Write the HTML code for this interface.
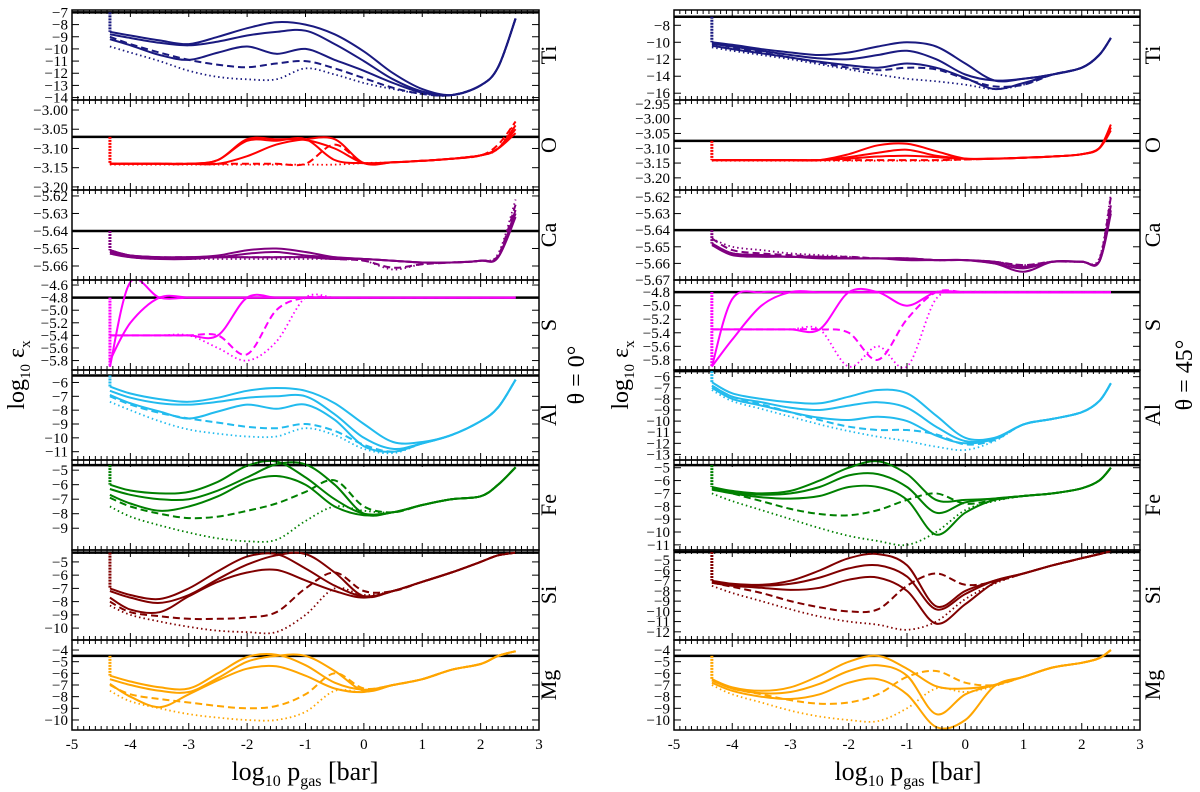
<!DOCTYPE html>
<html><head><meta charset="utf-8"><style>
html,body{margin:0;padding:0;background:#fff;}
svg{display:block;font-family:"Liberation Serif",serif;}
</style></head><body>
<svg id="chart" width="1200" height="792" viewBox="0 0 1200 792" xmlns="http://www.w3.org/2000/svg">
<g id="plots"></g>
<text transform="translate(24,375) rotate(-90)" text-anchor="middle" font-size="24">log<tspan font-size="15" dy="6">10</tspan><tspan dy="-6"> ε</tspan><tspan font-size="15" dy="6">x</tspan></text>
<text transform="translate(628,375) rotate(-90)" text-anchor="middle" font-size="24">log<tspan font-size="15" dy="6">10</tspan><tspan dy="-6"> ε</tspan><tspan font-size="15" dy="6">x</tspan></text>
<text transform="translate(584,375) rotate(-90)" text-anchor="middle" font-size="24">θ = 0°</text>
<text transform="translate(1192,375) rotate(-90)" text-anchor="middle" font-size="24">θ = 45°</text>
<text x="305" y="780" text-anchor="middle" font-size="26">log<tspan font-size="16" dy="6">10</tspan><tspan dy="-6"> p</tspan><tspan font-size="16" dy="6">gas</tspan><tspan dy="-6"> [bar]</tspan></text>
<text x="908" y="780" text-anchor="middle" font-size="26">log<tspan font-size="16" dy="6">10</tspan><tspan dy="-6"> p</tspan><tspan font-size="16" dy="6">gas</tspan><tspan dy="-6"> [bar]</tspan></text>
</svg>
<script>
const XL = [-4.35,-4,-3.5,-3,-2.5,-2,-1.5,-1,-0.5,0,0.5,1,1.5,2,2.3,2.6];
const XR = [-4.35,-4,-3.5,-3,-2.5,-2,-1.5,-1,-0.5,0,0.5,1,1.5,2,2.3,2.5];
const xTicks = [-5,-4,-3,-2,-1,0,1,2,3];
const elements = ["Ti","O","Ca","S","Al","Fe","Si","Mg"];
const colors = ["#1a1a80","#ff0000","#800080","#ff00ff","#22bbee","#008000","#800000","#ffa500"];

const leftTi = [[-8.6,-8.9,-9.3,-9.6,-9.0,-8.3,-7.8,-8.0,-8.8,-10.2,-12.0,-13.3,-13.8,-13.0,-11.5,-7.5],[-8.8,-9.1,-9.5,-9.7,-9.4,-8.9,-8.6,-8.5,-9.6,-11.0,-12.5,-13.5,-13.8,-13.0,-11.5,-7.5],[-9.2,-9.7,-10.5,-10.9,-10.3,-9.8,-10.4,-10.0,-10.9,-11.8,-12.8,-13.6,-13.8,-13.0,-11.5,-7.5],[-9.0,-9.6,-10.3,-10.9,-11.3,-11.5,-11.2,-11.0,-11.6,-12.4,-13.2,-13.7,-13.8,-13.0,-11.5,-7.5],[-9.8,-10.3,-11.0,-11.8,-12.3,-12.5,-12.5,-11.6,-12.1,-12.8,-13.3,-13.7,-13.8,-13.0,-11.5,-7.5]];
const leftO = [[-3.14,-3.14,-3.14,-3.14,-3.13,-3.076,-3.076,-3.078,-3.10,-3.138,-3.136,-3.132,-3.127,-3.118,-3.10,-3.04],[-3.14,-3.14,-3.14,-3.14,-3.13,-3.08,-3.08,-3.076,-3.13,-3.138,-3.136,-3.132,-3.127,-3.118,-3.10,-3.05],[-3.14,-3.14,-3.14,-3.14,-3.14,-3.12,-3.09,-3.076,-3.076,-3.138,-3.136,-3.132,-3.127,-3.118,-3.10,-3.06],[-3.14,-3.14,-3.14,-3.14,-3.14,-3.14,-3.14,-3.14,-3.09,-3.138,-3.136,-3.132,-3.127,-3.118,-3.09,-3.03],[-3.142,-3.142,-3.142,-3.142,-3.142,-3.142,-3.142,-3.142,-3.142,-3.138,-3.136,-3.132,-3.127,-3.118,-3.10,-3.03]];
const leftCa = [[-5.651,-5.654,-5.655,-5.655,-5.654,-5.651,-5.650,-5.652,-5.655,-5.656,-5.657,-5.658,-5.658,-5.657,-5.655,-5.628],[-5.652,-5.654,-5.655,-5.655,-5.655,-5.653,-5.652,-5.654,-5.655,-5.656,-5.657,-5.658,-5.658,-5.657,-5.655,-5.630],[-5.653,-5.655,-5.656,-5.656,-5.655,-5.655,-5.655,-5.655,-5.656,-5.656,-5.657,-5.658,-5.658,-5.657,-5.655,-5.632],[-5.651,-5.654,-5.655,-5.655,-5.655,-5.655,-5.655,-5.655,-5.656,-5.657,-5.661,-5.659,-5.658,-5.657,-5.654,-5.625],[-5.652,-5.655,-5.656,-5.656,-5.656,-5.656,-5.656,-5.656,-5.656,-5.657,-5.662,-5.659,-5.658,-5.657,-5.653,-5.622]];
const leftS = [[-5.9,-4.55,-4.8,-4.8,-4.8,-4.8,-4.8,-4.8,-4.8,-4.8,-4.8,-4.8,-4.8,-4.8,-4.8,-4.8],[-5.8,-5.2,-4.8,-4.8,-4.8,-4.8,-4.8,-4.8,-4.8,-4.8,-4.8,-4.8,-4.8,-4.8,-4.8,-4.8],[-5.4,-5.4,-5.4,-5.4,-5.4,-4.8,-4.8,-4.8,-4.8,-4.8,-4.8,-4.8,-4.8,-4.8,-4.8,-4.8],[-5.4,-5.4,-5.4,-5.4,-5.4,-5.7,-5.0,-4.8,-4.8,-4.8,-4.8,-4.8,-4.8,-4.8,-4.8,-4.8],[-5.4,-5.4,-5.4,-5.4,-5.6,-5.8,-5.5,-4.8,-4.8,-4.8,-4.8,-4.8,-4.8,-4.8,-4.8,-4.8]];
const leftAl = [[-6.3,-6.8,-7.2,-7.4,-7.1,-6.6,-6.4,-6.6,-7.5,-9.0,-10.3,-10.3,-9.8,-8.8,-7.8,-5.8],[-6.6,-7.1,-7.5,-7.6,-7.4,-7.1,-7.0,-7.0,-8.3,-10.0,-10.8,-10.4,-9.8,-8.8,-7.8,-5.8],[-6.9,-7.5,-8.1,-8.6,-8.1,-7.6,-7.9,-7.6,-8.7,-10.6,-11.0,-10.4,-9.8,-8.8,-7.8,-5.8],[-7.0,-7.6,-8.2,-8.6,-8.9,-9.2,-9.3,-9.0,-9.5,-10.5,-11.0,-10.4,-9.8,-8.8,-7.8,-5.8],[-7.4,-8.0,-8.8,-9.4,-9.7,-9.9,-9.9,-9.3,-9.8,-10.8,-11.1,-10.4,-9.8,-8.8,-7.8,-5.8]];
const leftFe = [[-6.0,-6.4,-6.6,-6.5,-5.8,-4.7,-4.4,-5.5,-7.0,-8.0,-7.9,-7.4,-7.0,-6.8,-6.0,-4.8],[-6.3,-6.7,-7.0,-7.0,-6.4,-5.5,-4.6,-4.6,-6.0,-8.0,-7.9,-7.4,-7.0,-6.8,-6.0,-4.8],[-6.7,-7.3,-7.8,-7.5,-6.8,-5.8,-5.4,-6.0,-7.5,-8.1,-7.9,-7.4,-7.0,-6.8,-6.0,-4.8],[-6.9,-7.5,-8.0,-8.3,-8.2,-7.8,-7.3,-6.5,-5.7,-7.5,-7.9,-7.4,-7.0,-6.8,-6.0,-4.8],[-7.5,-8.2,-8.8,-9.3,-9.7,-9.9,-9.8,-8.5,-7.5,-7.8,-7.9,-7.4,-7.0,-6.8,-6.0,-4.8]];
const leftSi = [[-7.0,-7.5,-7.8,-7.0,-5.7,-4.6,-4.4,-5.5,-6.8,-7.6,-7.2,-6.5,-5.8,-5.0,-4.5,-4.3],[-7.2,-7.7,-8.1,-7.5,-6.3,-5.2,-4.5,-4.4,-5.8,-7.6,-7.2,-6.5,-5.8,-5.0,-4.5,-4.3],[-7.7,-8.6,-8.8,-7.6,-6.5,-5.8,-5.6,-6.4,-7.2,-7.7,-7.2,-6.5,-5.8,-5.0,-4.5,-4.3],[-8.0,-8.8,-9.1,-9.3,-9.3,-9.2,-8.8,-7.0,-5.8,-7.2,-7.2,-6.5,-5.8,-5.0,-4.5,-4.3],[-8.3,-9.0,-9.5,-9.9,-10.2,-10.3,-10.3,-9.0,-7.0,-7.5,-7.2,-6.5,-5.8,-5.0,-4.5,-4.3]];
const leftMg = [[-6.2,-6.7,-7.2,-7.3,-6.0,-4.6,-4.4,-5.3,-6.8,-7.4,-7.0,-6.5,-5.7,-5.2,-4.5,-4.1],[-6.5,-7.0,-7.5,-7.6,-6.4,-5.0,-4.5,-4.5,-5.8,-7.5,-7.0,-6.5,-5.7,-5.2,-4.5,-4.1],[-6.9,-8.0,-8.9,-7.8,-6.6,-5.6,-5.4,-6.2,-7.3,-7.6,-7.0,-6.5,-5.7,-5.2,-4.5,-4.1],[-7.0,-7.8,-8.2,-8.5,-8.8,-9.0,-8.8,-7.8,-6.0,-7.3,-7.0,-6.5,-5.7,-5.2,-4.5,-4.1],[-7.5,-8.4,-9.0,-9.5,-9.8,-10.0,-10.0,-9.3,-7.5,-7.6,-7.0,-6.5,-5.7,-5.2,-4.5,-4.1]];

const rightTi = [[-10,-10.3,-10.8,-11.2,-11.5,-11.2,-10.5,-10.0,-10.5,-12.5,-14.5,-14.3,-13.8,-13.0,-11.5,-9.5],[-10.2,-10.5,-11.0,-11.5,-11.9,-12.0,-11.5,-11.0,-12.0,-13.8,-14.5,-14.3,-13.8,-13.0,-11.5,-9.5],[-10.4,-10.8,-11.3,-11.8,-12.3,-12.7,-13.0,-12.5,-13.0,-14.2,-15.5,-14.8,-13.8,-13.0,-11.5,-9.5],[-10.0,-10.6,-11.2,-11.8,-12.4,-13.0,-13.3,-13.0,-13.2,-14.3,-15.2,-15.0,-13.8,-13.0,-11.5,-9.5],[-10.6,-11.0,-11.5,-12.0,-12.6,-13.2,-13.8,-14.3,-14.6,-15.0,-15.5,-15.0,-13.8,-13.0,-11.5,-9.5]];
const rightO = [[-3.14,-3.14,-3.14,-3.14,-3.14,-3.12,-3.09,-3.085,-3.11,-3.135,-3.135,-3.132,-3.128,-3.12,-3.10,-3.02],[-3.14,-3.14,-3.14,-3.14,-3.14,-3.13,-3.115,-3.105,-3.125,-3.135,-3.135,-3.132,-3.128,-3.12,-3.10,-3.03],[-3.14,-3.14,-3.14,-3.14,-3.14,-3.135,-3.128,-3.125,-3.13,-3.136,-3.135,-3.132,-3.128,-3.12,-3.10,-3.04],[-3.14,-3.14,-3.14,-3.14,-3.14,-3.14,-3.14,-3.14,-3.14,-3.138,-3.135,-3.132,-3.128,-3.12,-3.10,-3.03],[-3.142,-3.142,-3.142,-3.142,-3.142,-3.142,-3.142,-3.142,-3.142,-3.138,-3.135,-3.132,-3.128,-3.12,-3.10,-3.03]];
const rightCa = [[-5.648,-5.654,-5.655,-5.656,-5.656,-5.657,-5.657,-5.657,-5.658,-5.658,-5.659,-5.662,-5.659,-5.659,-5.659,-5.625],[-5.648,-5.654,-5.655,-5.656,-5.656,-5.657,-5.657,-5.657,-5.658,-5.658,-5.660,-5.665,-5.659,-5.659,-5.659,-5.628],[-5.649,-5.655,-5.656,-5.656,-5.657,-5.657,-5.657,-5.658,-5.658,-5.658,-5.660,-5.663,-5.659,-5.659,-5.659,-5.630],[-5.645,-5.652,-5.654,-5.655,-5.656,-5.656,-5.657,-5.657,-5.658,-5.658,-5.659,-5.661,-5.659,-5.659,-5.658,-5.620],[-5.645,-5.650,-5.652,-5.654,-5.655,-5.656,-5.657,-5.657,-5.658,-5.658,-5.659,-5.661,-5.659,-5.659,-5.657,-5.618]];
const rightS = [[-5.9,-4.9,-4.8,-4.8,-4.8,-4.8,-4.8,-4.8,-4.8,-4.8,-4.8,-4.8,-4.8,-4.8,-4.8,-4.8],[-5.9,-5.5,-5.0,-4.8,-4.8,-4.8,-4.8,-4.8,-4.8,-4.8,-4.8,-4.8,-4.8,-4.8,-4.8,-4.8],[-5.35,-5.35,-5.35,-5.35,-5.35,-4.8,-4.8,-5.0,-4.8,-4.8,-4.8,-4.8,-4.8,-4.8,-4.8,-4.8],[-5.35,-5.35,-5.35,-5.35,-5.35,-5.4,-5.8,-5.2,-4.8,-4.8,-4.8,-4.8,-4.8,-4.8,-4.8,-4.8],[-5.35,-5.35,-5.35,-5.35,-5.35,-5.9,-5.6,-5.9,-4.9,-4.8,-4.8,-4.8,-4.8,-4.8,-4.8,-4.8]];
const rightAl = [[-6.5,-7.5,-8.0,-8.3,-8.4,-7.8,-7.2,-7.5,-9.5,-11.5,-11.5,-10.3,-9.8,-9.2,-8.2,-6.6],[-6.8,-7.8,-8.3,-8.8,-9.0,-8.6,-8.3,-8.8,-10.5,-11.8,-11.6,-10.3,-9.8,-9.2,-8.2,-6.6],[-7.0,-8.0,-8.6,-9.2,-9.7,-9.9,-9.6,-10.0,-11.3,-12.0,-11.6,-10.3,-9.8,-9.2,-8.2,-6.6],[-6.8,-7.8,-8.5,-9.2,-9.9,-10.5,-10.8,-10.8,-11.2,-12.1,-11.7,-10.3,-9.8,-9.2,-8.2,-6.6],[-7.2,-8.2,-8.9,-9.6,-10.3,-10.9,-11.4,-11.8,-12.3,-12.6,-11.8,-10.3,-9.8,-9.2,-8.2,-6.6]];
const rightFe = [[-6.5,-6.8,-7.0,-6.8,-6.0,-5.0,-4.5,-5.5,-7.5,-7.5,-7.4,-7.2,-7.0,-6.6,-6.0,-5.0],[-6.6,-6.9,-7.1,-7.0,-6.5,-5.6,-5.5,-6.5,-8.5,-7.7,-7.4,-7.2,-7.0,-6.6,-6.0,-5.0],[-6.7,-7.0,-7.3,-7.4,-7.2,-6.5,-6.5,-7.5,-10.2,-8.5,-7.5,-7.2,-7.0,-6.6,-6.0,-5.0],[-6.6,-7.0,-7.6,-8.2,-8.6,-8.7,-8.3,-7.5,-7.0,-7.8,-7.5,-7.2,-7.0,-6.6,-6.0,-5.0],[-7.0,-7.6,-8.3,-9.0,-9.7,-10.3,-10.7,-11.0,-10.0,-8.3,-7.6,-7.2,-7.0,-6.6,-6.0,-5.0]];
const rightSi = [[-7.0,-7.3,-7.4,-7.0,-6.0,-4.8,-4.4,-5.5,-9.5,-8.0,-7.0,-6.3,-5.5,-4.8,-4.4,-4.1],[-7.1,-7.4,-7.5,-7.3,-6.7,-5.8,-5.5,-6.6,-9.8,-8.3,-7.0,-6.3,-5.5,-4.8,-4.4,-4.1],[-7.2,-7.5,-7.7,-7.9,-7.7,-6.9,-6.7,-8.0,-11.2,-9.3,-7.2,-6.3,-5.5,-4.8,-4.4,-4.1],[-7.2,-7.6,-8.2,-9.0,-9.6,-10.0,-9.8,-7.5,-6.3,-7.4,-7.1,-6.3,-5.5,-4.8,-4.4,-4.1],[-7.5,-8.2,-9.0,-9.8,-10.5,-11.0,-11.3,-11.8,-11.0,-8.8,-7.3,-6.3,-5.5,-4.8,-4.4,-4.1]];
const rightMg = [[-6.5,-7.2,-7.5,-7.2,-6.2,-5.0,-4.5,-5.6,-7.1,-7.3,-7.0,-6.3,-5.5,-5.1,-4.7,-4.0],[-6.6,-7.3,-7.7,-7.6,-6.9,-5.8,-5.3,-6.2,-9.5,-7.8,-7.0,-6.3,-5.5,-5.1,-4.7,-4.0],[-6.8,-7.5,-8.0,-8.2,-7.8,-6.8,-6.5,-7.8,-10.6,-10.0,-7.1,-6.3,-5.5,-5.1,-4.7,-4.0],[-6.6,-7.3,-7.8,-8.3,-8.6,-8.5,-7.8,-6.3,-5.8,-6.8,-7.0,-6.3,-5.5,-5.1,-4.7,-4.0],[-7.0,-7.8,-8.5,-9.2,-9.7,-10.0,-10.1,-9.0,-7.3,-7.6,-7.1,-6.3,-5.5,-5.1,-4.7,-4.0]];

// y-domain [top, bottom], reference value, tick values
const leftDomains = [[-6.8,-14.2],[-2.974,-3.208],[-5.6166,-5.668],[-4.52,-5.95],[-5.1,-11.6],[-4.3,-10.5],[-4.1,-10.9],[-3.14,-10.86]];
const rightDomains = [[-6.2,-16.8],[-2.937,-3.241],[-5.6158,-5.670],[-4.62,-5.95],[-5.4,-13.5],[-4.4,-11.4],[-4.0,-12.8],[-3.14,-10.86]];
const leftRefs = [-7,-3.07,-5.64,-4.8,-5.5,-4.65,-4.3,-4.5];
const rightRefs = [-7,-3.075,-5.64,-4.8,-5.5,-4.8,-4.2,-4.5];
const leftTicks = [[-7,-8,-9,-10,-11,-12,-13,-14],[-3.00,-3.05,-3.10,-3.15,-3.20],[-5.62,-5.63,-5.64,-5.65,-5.66],[-4.6,-4.8,-5.0,-5.2,-5.4,-5.6,-5.8],[-6,-7,-8,-9,-10,-11],[-5,-6,-7,-8,-9],[-5,-6,-7,-8,-9,-10],[-4,-5,-6,-7,-8,-9,-10]];
const rightTicks = [[-8,-10,-12,-14,-16],[-2.95,-3.00,-3.05,-3.10,-3.15,-3.20],[-5.62,-5.63,-5.64,-5.65,-5.66,-5.67],[-4.8,-5.0,-5.2,-5.4,-5.6,-5.8],[-6,-7,-8,-9,-10,-11,-12,-13],[-5,-6,-7,-8,-9,-10,-11],[-5,-6,-7,-8,-9,-10,-11,-12],[-4,-5,-6,-7,-8,-9,-10]];
const leftDec = [0,2,2,1,0,0,0,0];
const rightDec = [0,2,2,1,0,0,0,0];

const leftData = [leftTi,leftO,leftCa,leftS,leftAl,leftFe,leftSi,leftMg];
const rightData = [rightTi,rightO,rightCa,rightS,rightAl,rightFe,rightSi,rightMg];
const styles = [{w:2,d:null},{w:2,d:null},{w:2,d:null},{w:2,d:"7,4"},{w:1.8,d:"1.5,3"}];

const NS = "http://www.w3.org/2000/svg";
const root = document.getElementById("plots");
function mk(tag, attrs, parent){const e=document.createElementNS(NS,tag);for(const k in attrs)e.setAttribute(k,attrs[k]);(parent||root).appendChild(e);return e;}
function smooth(pts){
  let d="M"+pts[0][0].toFixed(1)+","+pts[0][1].toFixed(1);
  for(let i=0;i<pts.length-1;i++){
    const p0=pts[Math.max(0,i-1)],p1=pts[i],p2=pts[i+1],p3=pts[Math.min(pts.length-1,i+2)];
    const c1=[p1[0]+(p2[0]-p0[0])/6,p1[1]+(p2[1]-p0[1])/6];
    const c2=[p2[0]-(p3[0]-p1[0])/6,p2[1]-(p3[1]-p1[1])/6];
    d+="C"+c1[0].toFixed(1)+","+c1[1].toFixed(1)+" "+c2[0].toFixed(1)+","+c2[1].toFixed(1)+" "+p2[0].toFixed(1)+","+p2[1].toFixed(1);
  }
  return d;
}
const TOP=10, ROWH=90;
function panel(side, x0, x1, X, data, domains, refs, ticks, decs, labelX){
  const xs = v => x0 + (v+5)/8*(x1-x0);
  const pg = mk("g",{});
  
  
  for(let r=0;r<8;r++){
    const yt=TOP+r*ROWH, yb=yt+ROWH;
    const dom=domains[r];
    const ys = v => yt + (v-dom[0])/(dom[1]-dom[0])*ROWH;
    const g = mk("g",{},pg);
    
    
    const cid = "clip-"+side+r;
    const cp = mk("clipPath",{id:cid},g);
    mk("rect",{x:x0,y:yt,width:x1-x0,height:ROWH},cp);
    const sg = mk("g",{"clip-path":"url(#"+cid+")"},g);
    // reference line
    const ref = mk("line",{x1:x0,x2:x1,y1:ys(refs[r]),y2:ys(refs[r]),stroke:"#000","stroke-width":2.5},sg);
    
    
    // spike at start
    const sp = mk("line",{x1:xs(X[0]),x2:xs(X[0]),y1:ys(refs[r]),y2:ys(data[r][0][0]),stroke:colors[r],"stroke-width":3,"stroke-dasharray":"2,1"},sg);
    
    
    for(let s=0;s<data[r].length;s++){
      const pts = X.map((xv,i)=>[xs(xv), ys(data[r][s][i])]);
      const attrs = {d:smooth(pts),fill:"none",stroke:colors[r],"stroke-width":styles[s].w};
      if(styles[s].d) attrs["stroke-dasharray"]=styles[s].d;
      const p = mk("path",attrs,sg);
      
      
    }
    // frame
    mk("rect",{x:x0,y:yt,width:x1-x0,height:ROWH,fill:"none",stroke:"#000","stroke-width":1.5},g);
    // x ticks
    for(let t=-50;t<=30;t++){
      const v=t/10, xx=xs(v), len=(t%10===0)?7:4;
      mk("line",{x1:xx,x2:xx,y1:yt,y2:yt+len,stroke:"#000","stroke-width":1},g);
      mk("line",{x1:xx,x2:xx,y1:yb,y2:yb-len,stroke:"#000","stroke-width":1},g);
    }
    // y ticks + labels
    ticks[r].forEach(tv=>{
      const yy=ys(tv);
      if(yy<yt-1||yy>yb+1) return;
      mk("line",{x1:x0,x2:x0+7,y1:yy,y2:yy,stroke:"#000","stroke-width":1},g);
      mk("line",{x1:x1,x2:x1-7,y1:yy,y2:yy,stroke:"#000","stroke-width":1},g);
      const tl = mk("text",{x:x0-4,y:yy+5,"text-anchor":"end","font-size":15},g);
      tl.textContent = "\u2212"+Math.abs(tv).toFixed(decs[r]);
      
      
    });
    const el = mk("text",{transform:"translate("+labelX+","+(yt+ROWH/2)+") rotate(-90)","text-anchor":"middle","font-size":22},g);
    el.textContent = elements[r];
    
    
  }
  xTicks.forEach(v=>{
    const t = mk("text",{x:xs(v),y:TOP+8*ROWH+19,"text-anchor":"middle","font-size":15},pg);
    t.textContent = v<0 ? "-"+Math.abs(v) : String(v);
    
    
  });
}
panel("left",72,539,XL,leftData,leftDomains,leftRefs,leftTicks,leftDec,556);
panel("right",674,1140,XR,rightData,rightDomains,rightRefs,rightTicks,rightDec,1160);
</script>
</body></html>
